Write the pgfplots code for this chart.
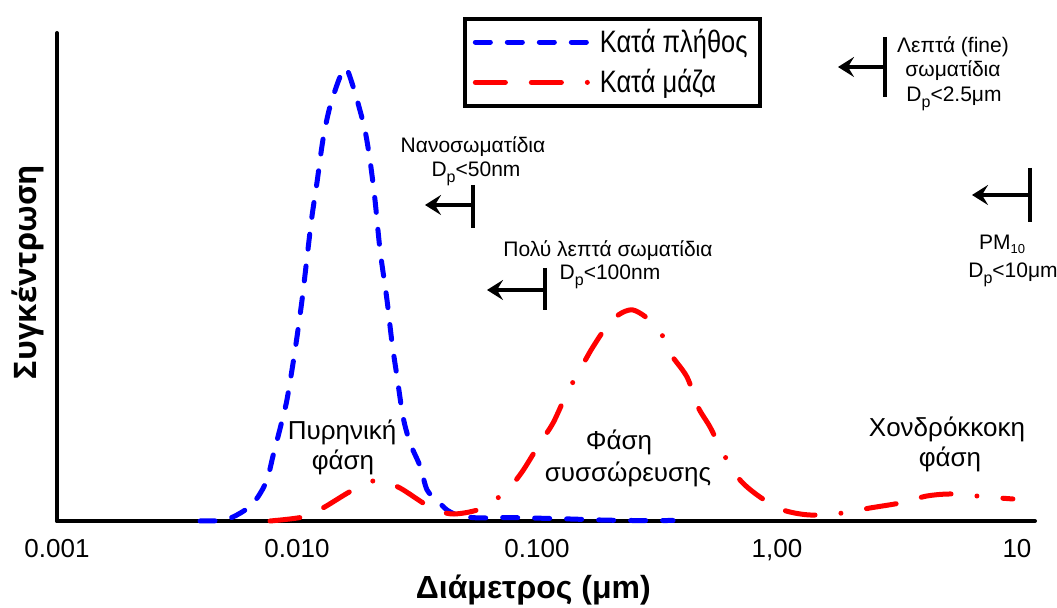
\documentclass[border=0pt]{standalone}
\usepackage{fontspec}
\setmainfont{Liberation Sans}
\newfontfamily\legfont[FakeStretch=0.82]{Liberation Sans}
\newfontfamily\ylabfont{Open Sans}
\usepackage{pgfplots}
\usepackage{pgfplotstable}
\pgfplotsset{compat=1.18}
\usetikzlibrary{arrows.meta}
\newcommand\sub[1]{\raisebox{-0.5ex}{\fontsize{8}{9}\selectfont #1}}

% x = log10(diameter in um), y = relative concentration
\pgfplotstableread{
x y
-2.404 0
-2.321 0.5
-2.267 4
-2.204 13
-2.163 24
-2.125 41
-2.100 65
-2.071 92
-2.042 121
-2.008 171
-1.979 221
-1.958 264
-1.938 304
-1.917 338
-1.892 381
-1.863 414
-1.821 444
-1.796 453
-1.771 438
-1.746 418
-1.717 391
-1.696 361
-1.675 321
-1.654 271
-1.625 221
-1.604 178
-1.583 144
-1.558 104
-1.529 78
-1.4875 55
-1.458 31
-1.417 21
-1.375 11
-1.321 5
-1.2375 3
-1.154 3.5
-1.029 3
-0.8625 2
-0.7375 1
-0.6125 0.5
-0.433 0.5
}\numbertable

\pgfplotstableread{
x y
-2.1125 0
-1.975 4
-1.892 13
-1.767 31
-1.6625 41
-1.571 33
-1.446 14
-1.35 7
-1.225 13
-1.125 31
-1.0625 49
-0.9875 78
-0.933 98
-0.875 128
-0.821 151
-0.767 174
-0.6875 201
-0.6 211
-0.496 193
-0.446 168
-0.375 144
-0.329 114
-0.279 94
-0.225 68
-0.154 41
-0.071 24
0.025 11
0.1375 6
0.275 8
0.3875 13
0.5125 18
0.625 25
0.733 27
0.875 24
0.983 22
}\masstable

\begin{document}
\begin{tikzpicture}
\begin{axis}[
  at={(0,0)}, anchor=south west,
  scale only axis, width=489pt, height=244pt,
  xmin=-3, xmax=1.075, ymin=0, ymax=488,
  clip=false,
  axis lines=left,
  axis line style={-, line width=2pt, line cap=round},
  xtick={-3,-2,-1,0,1},
  xticklabels={0.001,0.010,0.100,{1,00},10},
  ytick=\empty,
  major tick length=0pt,
  xticklabel style={anchor=base, yshift=-18.5pt, font=\fontsize{13}{15}\selectfont},
  xlabel={Διάμετρος (μm)},
  ylabel={Συγκέντρωση},
  x label style={at={(rel axis cs:0.487,-0.141)}, anchor=center, font=\bfseries\fontsize{16}{18}\selectfont},
  y label style={at={(rel axis cs:-0.0297,0.510)}, anchor=center, font=\ylabfont\bfseries\fontsize{15.5}{17}\selectfont},
  legend image code/.code={\draw[#1] (0pt,0pt) -- (59pt,0pt);},
  legend cell align=left,
  legend style={at={(rel axis cs:0.415,1.033)}, anchor=north west, draw=black, line width=2pt,
    inner xsep=4pt, inner ysep=3pt, row sep=3pt,
    font=\legfont\fontsize{15.5}{17}\selectfont},
]
\addplot[color={rgb,255:red,0;green,0;blue,255}, line width=2.5pt, line cap=round,
  dash pattern=on 7.5pt off 8.5pt, smooth] table[x=x,y=y] {\numbertable};
\addlegendentry{Κατά πλήθος}
\addplot[color={rgb,255:red,255;green,0;blue,0}, line width=2.5pt, line cap=round,
  dash pattern=on 15pt off 13pt on 15pt off 13pt on 0pt off 13pt, smooth] table[x=x,y=y] {\masstable};
\addlegendentry{Κατά μάζα}
\end{axis}

\begin{scope}[x=0.5pt, y=-0.5pt, shift={(-28.5pt,260.5pt)}]
  \tikzset{ann/.style={anchor=base, font=\fontsize{10.5}{12}\selectfont, inner sep=0pt},
           phase/.style={anchor=base, font=\fontsize{13}{15}\selectfont, inner sep=0pt},
           arr/.style={line width=1.75pt, -{Stealth[length=8pt,width=10pt,inset=3pt]}}}
  % fine particles
  \draw[line width=1.75pt] (885,37) -- (885,97);
  \draw[arr] (885,67) -- (838,67);
  \node[ann] at (953,53) {Λεπτά (fine)};
  \node[ann] at (953,77) {σωματίδια};
  \node[ann] at (954,102) {D\sub{p}<2.5μm};
  % nanoparticles
  \draw[line width=1.75pt] (473,185) -- (473,228);
  \draw[arr] (473,205) -- (425,205);
  \node[ann] at (473,153) {Νανοσωματίδια};
  \node[ann] at (476,177) {D\sub{p}<50nm};
  % ultrafine
  \draw[line width=1.75pt] (545,268) -- (545,310);
  \draw[arr] (545,290) -- (487,290);
  \node[ann] at (608,257) {Πολύ λεπτά σωματίδια};
  \node[ann] at (610,280) {D\sub{p}<100nm};
  % PM10
  \draw[line width=1.75pt] (1030,168) -- (1030,222);
  \draw[arr] (1030,195) -- (972,195);
  \node[ann] at (1002,250) {PM\raisebox{-0.3ex}{\fontsize{6.5}{7}\selectfont 10}};
  \node[ann] at (1013,278) {D\sub{p}<10μm};
  % phases
  \node[phase] at (342,440) {Πυρηνική};
  \node[phase] at (343,470) {φάση};
  \node[phase] at (619,450) {Φάση};
  \node[phase] at (628,482) {συσσώρευσης};
  \node[phase] at (947,437) {Χονδρόκκοκη};
  \node[phase] at (950,467) {φάση};
  \pgfresetboundingbox
  \useasboundingbox (0,0) rectangle (1057,608);
\end{scope}
\end{tikzpicture}
\end{document}
